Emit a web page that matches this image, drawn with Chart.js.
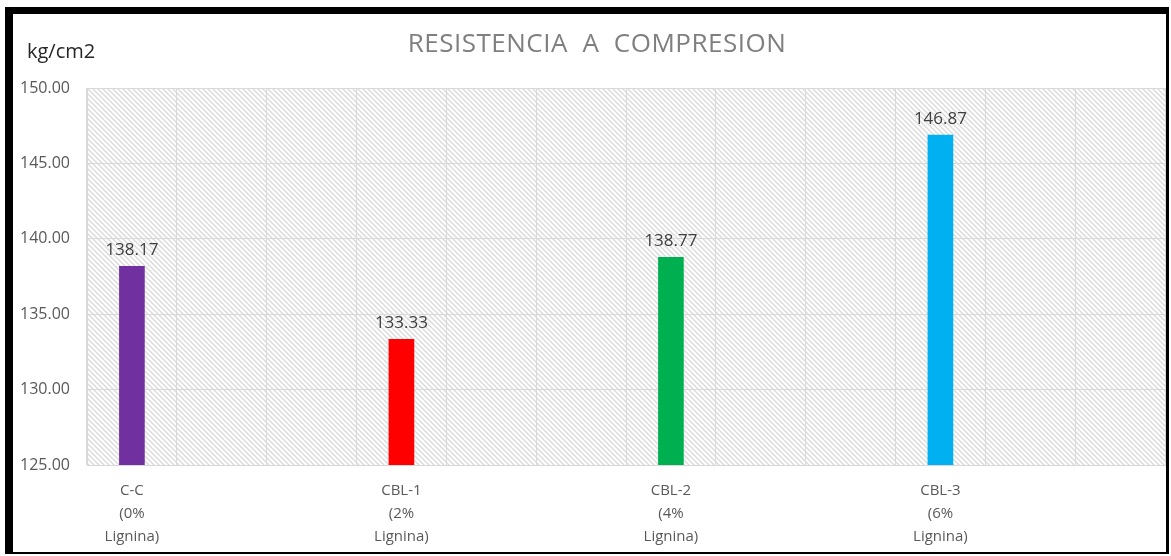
<!DOCTYPE html>
<html>
<head>
<meta charset="utf-8">
<script src="https://cdn.jsdelivr.net/npm/chart.js@4"></script>
<style>
    html, body { margin: 0; padding: 0; background: #ffffff; }
    #frame {
        position: absolute;
        left: 5px;
        top: 7px;
        width: 1153px;
        height: 538px;
        border-style: solid;
        border-color: #000000;
        border-width: 7px 3px 2px 8px;
    }
    #chart { display: block; }
</style>
</head>
<body>
<div id="frame">
    <canvas id="chart" width="1153" height="538"></canvas>
</div>
<script>
// datos de resistencia a compresion (kg/cm2)
const mezclas = ['C-C', 'CBL-1', 'CBL-2', 'CBL-3'];
const ligninaPct = ['0%', '2%', '4%', '6%'];
const resistencia = [138.17, 133.33, 138.77, 146.87];
const coloresBarras = ['#7030A0', '#FF0000', '#00B050', '#00B0F0'];
const yTicks = [125, 130, 135, 140, 145, 150];

// cada mezcla ocupa 3 columnas del eje, la barra va en la primera
const columnasPorMezcla = 3;
const etiquetas = [];
const valores = [];
const colores = [];
mezclas.forEach((m, i) => {
    for (let k = 0; k < columnasPorMezcla; k++) {
        if (k === 0) {
            etiquetas.push([m, '(' + ligninaPct[i], 'Lignina)']);
            valores.push(resistencia[i]);
            colores.push(coloresBarras[i]);
        } else {
            etiquetas.push('');
            valores.push(null);
            colores.push('transparent');
        }
    }
});

const textoGris = '#595959';
const lineaGris = '#d9d9d9';
const fuente = "'Open Sans', 'Liberation Sans', sans-serif";

// fondo rayado del area de trazado
function crearTrama(ctx) {
    const n = 5;
    const c = document.createElement('canvas');
    c.width = n;
    c.height = n;
    const t = c.getContext('2d');
    t.fillStyle = '#ffffff';
    t.fillRect(0, 0, n, n);
    t.strokeStyle = '#dadada';
    t.lineWidth = 1.4;
    t.beginPath();
    t.moveTo(-1, -1); t.lineTo(n + 1, n + 1);
    t.moveTo(-1, n - 1); t.lineTo(1, n + 1);
    t.moveTo(n - 1, -1); t.lineTo(n + 1, 1);
    t.stroke();
    return ctx.createPattern(c, 'repeat');
}

const fondoRayado = {
    id: 'fondoRayado',
    beforeDraw(chart) {
        const { ctx, chartArea: a } = chart;
        ctx.save();
        ctx.fillStyle = crearTrama(ctx);
        ctx.fillRect(a.left, a.top, a.right - a.left, a.bottom - a.top);
        ctx.restore();
    }
};

// etiqueta de valor sobre cada barra
const valoresSobreBarras = {
    id: 'valoresSobreBarras',
    afterDatasetsDraw(chart) {
        const { ctx } = chart;
        const meta = chart.getDatasetMeta(0);
        ctx.save();
        ctx.font = '17px ' + fuente;
        ctx.fillStyle = '#404040';
        ctx.textAlign = 'center';
        ctx.textBaseline = 'bottom';
        meta.data.forEach((bar, i) => {
            const v = chart.data.datasets[0].data[i];
            if (v == null) return;
            ctx.fillText(v.toFixed(2), bar.x, bar.y - 8);
        });
        ctx.restore();
    }
};

// titulo y unidad arriba
const encabezado = {
    id: 'encabezado',
    afterDraw(chart) {
        const { ctx } = chart;
        ctx.save();
        ctx.textBaseline = 'middle';
        ctx.font = '26px ' + fuente;
        ctx.fillStyle = '#7f7f7f';
        ctx.textAlign = 'center';
        ctx.letterSpacing = '0.5px';
        ctx.fillText('RESISTENCIA  A  COMPRESION', 584, 31);
        ctx.letterSpacing = '0px';
        ctx.font = '20px ' + fuente;
        ctx.fillStyle = '#262626';
        ctx.textAlign = 'left';
        ctx.fillText('kg/cm2', 14, 38);
        ctx.restore();
    }
};

new Chart(document.getElementById('chart'), {
    type: 'bar',
    data: {
        labels: etiquetas,
        datasets: [{
            data: valores,
            backgroundColor: colores,
            barThickness: 25,
            borderWidth: 0
        }]
    },
    options: {
        responsive: false,
        animation: false,
        layout: { padding: { left: 0, right: 1, top: 74, bottom: 0 } },
        plugins: {
            legend: { display: false },
            tooltip: { enabled: false },
            title: { display: false }
        },
        scales: {
            x: {
                grid: { color: lineaGris, drawTicks: false, offset: true },
                border: { color: lineaGris },
                ticks: {
                    color: textoGris,
                    font: { family: fuente, size: 15, lineHeight: 1.55 },
                    padding: 14,
                    maxRotation: 0,
                    autoSkip: false
                },
                afterFit(scale) { scale.height = 87; }
            },
            y: {
                min: yTicks[0],
                max: yTicks[yTicks.length - 1],
                afterBuildTicks(scale) {
                    scale.ticks = yTicks.map(v => ({ value: v }));
                },
                grid: { color: lineaGris, drawTicks: false },
                border: { color: lineaGris },
                ticks: {
                    color: textoGris,
                    font: { family: fuente, size: 16 },
                    padding: 17,
                    callback: v => Number(v).toFixed(2)
                },
                afterFit(scale) { scale.width = 74; }
            }
        }
    },
    plugins: [fondoRayado, valoresSobreBarras, encabezado]
});
</script>
</body>
</html>
